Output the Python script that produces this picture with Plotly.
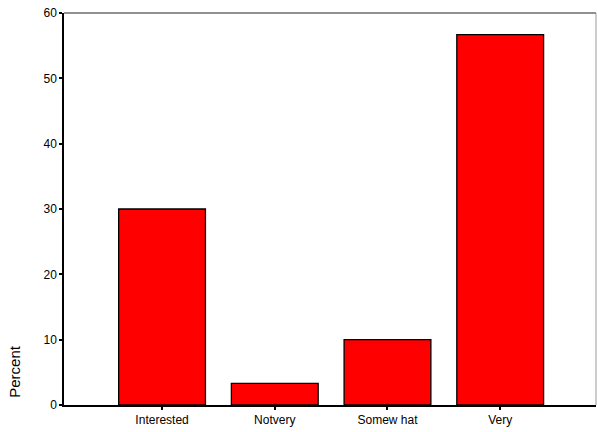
import plotly.graph_objects as go

categories = ["Interested", "Notvery", "Somew hat", "Very"]
percent = [30.0, 3.3, 10.0, 56.7]
y_ticks = [0, 10, 20, 30, 40, 50, 60]

fig = go.Figure()
fig.add_trace(go.Bar(
    x=list(range(len(categories))), y=percent,
    marker=dict(color="#ff0000", line=dict(color="#000000", width=1.3)),
    width=0.77,
))

fig.update_layout(
    width=597, height=432,
    margin=dict(l=64, r=1, t=13, b=27),
    paper_bgcolor="white", plot_bgcolor="white",
    font=dict(family="Liberation Sans, Arial, sans-serif", size=12, color="#000"),
    showlegend=False,
    xaxis=dict(
        range=[-0.87, 3.85], tickmode="array",
        tickvals=list(range(len(categories))), ticktext=categories,
        ticks="outside", ticklen=3, tickwidth=2, tickcolor="#000",
        showgrid=False, zeroline=False, showline=True, linecolor="#000", linewidth=1.5,
        tickfont=dict(size=12), automargin=False,
    ),
    yaxis=dict(
        range=[0, 60], tickmode="array", tickvals=y_ticks,
        ticks="outside", ticklen=3, tickwidth=2, tickcolor="#000",
        showgrid=False, zeroline=False, showline=True, linecolor="#000", linewidth=1.5,
        tickfont=dict(size=12), automargin=False,
    ),
    shapes=[
        dict(type="line", xref="paper", yref="paper", x0=0, x1=1, y0=1, y1=1,
             line=dict(color="#222", width=1.2)),
        dict(type="line", xref="paper", yref="paper", x0=1, x1=1, y0=0, y1=1,
             line=dict(color="#999", width=1)),
    ],
    annotations=[
        dict(text="Percent", xref="paper", yref="paper", x=-0.092, y=0.085,
             textangle=-90, showarrow=False, font=dict(size=15),
             xanchor="center", yanchor="middle"),
    ],
)

fig.write_html("out.html", config={"displayModeBar": False},
               post_script="document.body.style.margin='0px';document.body.style.overflow='hidden';")
